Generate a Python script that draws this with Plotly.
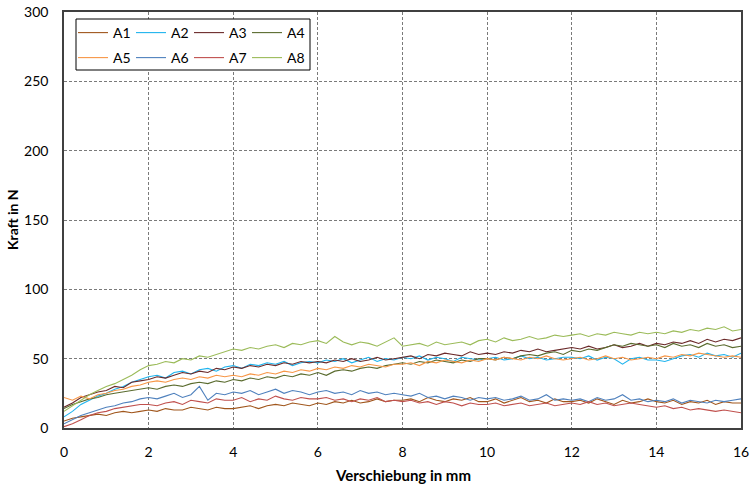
import plotly.graph_objects as go

x_mm = [round(i * 0.2, 1) for i in range(81)]

A1 = [5, 7, 8, 9, 10, 9, 11, 12, 11, 12,
      13, 12, 14, 13, 13, 15, 14, 13, 15, 14,
      14, 15, 16, 14, 16, 17, 16, 18, 17, 16,
      18, 17, 19, 18, 20, 18, 19, 21, 19, 20,
      20, 21, 19, 22, 20, 19, 21, 20, 22, 19,
      19, 21, 18, 20, 22, 19, 20, 18, 21, 19,
      19, 20, 18, 21, 19, 17, 20, 18, 19, 21,
      19, 18, 20, 17, 19, 18, 20, 17, 19, 18,
      18]
A2 = [8, 12, 17, 20, 23, 25, 28, 30, 33, 35,
      37, 38, 36, 40, 41, 39, 42, 43, 41, 44,
      45, 43, 46, 45, 47, 46, 48, 45, 47, 48,
      47, 49, 48, 50, 47, 49, 51, 48, 50, 49,
      51, 50, 52, 49, 51, 50, 48, 51, 50, 49,
      50, 51, 49, 50, 52, 50, 51, 49, 50, 51,
      51, 50, 52, 49, 51, 50, 46, 50, 51, 49,
      49, 48, 50, 52, 53, 51, 54, 52, 53, 51,
      54]
A3 = [15, 18, 22, 24, 26, 27, 30, 29, 33, 34,
      35, 37, 36, 38, 40, 39, 41, 40, 43, 42,
      44, 43, 45, 44, 46, 45, 47, 46, 48, 47,
      48, 47, 49, 48, 50, 48, 49, 51, 49, 50,
      51, 52, 50, 53, 52, 54, 53, 52, 55, 53,
      54, 53, 55, 54, 56, 55, 57, 55, 56, 57,
      58, 57, 59, 57, 58, 60, 58, 59, 61, 59,
      61, 60, 62, 61, 63, 61, 64, 62, 64, 63,
      65]
A4 = [14, 17, 19, 21, 22, 24, 25, 26, 27, 28,
      29, 28, 30, 31, 30, 32, 33, 32, 34, 33,
      35, 34, 36, 35, 37, 36, 38, 37, 39, 38,
      40, 38, 41, 42, 41, 43, 44, 43, 45, 46,
      47, 46, 48, 47, 49, 48, 47, 49, 48, 50,
      50, 49, 51, 50, 52, 53, 52, 54, 55, 53,
      56, 55, 57, 56, 58, 60, 59, 61, 60, 59,
      60, 58, 61, 59, 60, 58, 61, 59, 60, 58,
      59]
A5 = [22, 20, 23, 21, 24, 25, 27, 28, 30, 31,
      33, 34, 33, 35, 36, 35, 37, 36, 38, 37,
      38, 37, 39, 38, 40, 39, 41, 40, 42, 41,
      43, 42, 44, 43, 45, 44, 46, 45, 44, 46,
      46, 47, 45, 48, 47, 49, 48, 47, 49, 48,
      50, 49, 51, 50, 49, 51, 50, 52, 50, 49,
      50, 51, 49, 50, 52, 50, 51, 49, 50, 51,
      50, 52, 51, 53, 52, 54, 53, 52, 51, 52,
      51]
A6 = [3, 6, 9, 11, 13, 15, 16, 18, 19, 21,
      22, 21, 23, 25, 22, 24, 30, 20, 25, 24,
      26, 25, 27, 24, 26, 28, 25, 27, 26, 24,
      26, 27, 25, 26, 24, 27, 25, 26, 24, 25,
      24, 23, 25, 22, 23, 21, 23, 22, 20, 22,
      21, 22, 20, 21, 23, 20, 21, 24, 20, 21,
      20, 21, 19, 22, 20, 21, 24, 20, 21, 19,
      20, 19, 21, 18, 20, 19, 18, 20, 19, 20,
      21]
A7 = [1, 3, 6, 9, 11, 12, 14, 15, 16, 17,
      17, 16, 18, 19, 17, 20, 19, 18, 21, 20,
      20, 22, 19, 21, 20, 23, 21, 20, 22, 21,
      21, 22, 20, 21, 19, 21, 20, 22, 19, 20,
      19, 20, 18, 19, 17, 19, 18, 16, 18, 17,
      17, 18, 16, 17, 18, 16, 17, 18, 16, 17,
      18, 17, 19, 17, 18, 16, 17, 18, 17, 16,
      15, 16, 14, 15, 13, 14, 13, 12, 13, 12,
      11]
A8 = [12, 16, 20, 24, 27, 30, 32, 35, 38, 42,
      45, 46, 48, 47, 50, 49, 52, 51, 53, 55,
      57, 56, 58, 57, 59, 60, 58, 61, 60, 62,
      63, 61, 66, 62, 60, 62, 61, 59, 62, 65,
      59, 60, 61, 59, 62, 60, 61, 62, 60, 63,
      64, 62, 65, 63, 64, 66, 64, 65, 67, 66,
      67, 68, 66, 68, 67, 69, 68, 67, 69, 68,
      69, 68, 70, 69, 71, 70, 72, 71, 73, 70,
      71]

series_names = ["A1", "A2", "A3", "A4", "A5", "A6", "A7", "A8"]
series_values = [A1, A2, A3, A4, A5, A6, A7, A8]
colors = ["#A0561C", "#1FB4EE", "#6B2A2A", "#5A6B2E",
          "#F79646", "#4F81BD", "#C0504D", "#9BBB59"]

x_ticks = [0, 2, 4, 6, 8, 10, 12, 14, 16]
y_ticks = [0, 50, 100, 150, 200, 250, 300]
x_title = "Verschiebung in mm"
y_title = "Kraft in N"

FONT = "Lato, 'Open Sans', sans-serif"

fig = go.Figure()
for i, (name, vals) in enumerate(zip(series_names, series_values)):
    fig.add_trace(go.Scatter(
        x=x_mm, y=vals, name=name, mode="lines",
        line=dict(color=colors[i], width=1.1),
        legend="legend" if i < 4 else "legend2",
    ))

# legend frame
fig.add_shape(type="rect", xref="paper", yref="paper",
              x0=12 / 677, x1=246 / 677, y0=358 / 416, y1=409 / 416,
              line=dict(color="#000000", width=1), fillcolor="white", layer="above")

leg_common = dict(orientation="h", bgcolor="rgba(0,0,0,0)", borderwidth=0,
                  font=dict(family=FONT, size=14, color="#000"),
                  entrywidth=13, entrywidthmode="pixels", itemwidth=30,
                  xanchor="left", yanchor="middle", tracegroupgap=0)
fig.update_layout(
    legend=dict(x=9 / 677, y=(428 - 33) / 416, **leg_common),
    legend2=dict(x=9 / 677, y=(428 - 58) / 416, **leg_common),
)

# axis titles
fig.add_annotation(text="<b>" + x_title + "</b>", xref="paper", yref="paper",
                   x=0.5, y=(428 - 475) / 416, xanchor="center", yanchor="middle",
                   showarrow=False, font=dict(family=FONT, size=15, color="#000"))
fig.add_annotation(text="<b>" + y_title + "</b>", xref="paper", yref="paper",
                   x=(12 - 64) / 677, y=0.5, xanchor="center", yanchor="middle",
                   textangle=-90, showarrow=False,
                   font=dict(family=FONT, size=14, color="#000"))

fig.update_layout(
    width=753, height=488,
    margin=dict(l=64, r=12, t=12, b=60),
    paper_bgcolor="white", plot_bgcolor="white",
    font=dict(family=FONT, size=13, color="#000"),
    showlegend=True,
    xaxis=dict(range=[0, 16], tickvals=x_ticks, showgrid=True, automargin=False,
               gridcolor="#7a7a7a", griddash="3px,2px", gridwidth=1,
               showline=True, linecolor="#404040", linewidth=1.5, mirror=True,
               zeroline=False, ticks="", tickfont=dict(size=14), ticklabelstandoff=10),
    yaxis=dict(range=[0, 300], tickvals=y_ticks, showgrid=True, automargin=False,
               gridcolor="#7a7a7a", griddash="3px,2px", gridwidth=1,
               showline=True, linecolor="#404040", linewidth=1.5, mirror=True,
               zeroline=False, ticks="", tickfont=dict(size=14), ticklabelstandoff=11),
)

fig.write_html("out.html", config={"displayModeBar": False},
               post_script="document.body.style.margin='0px';")
